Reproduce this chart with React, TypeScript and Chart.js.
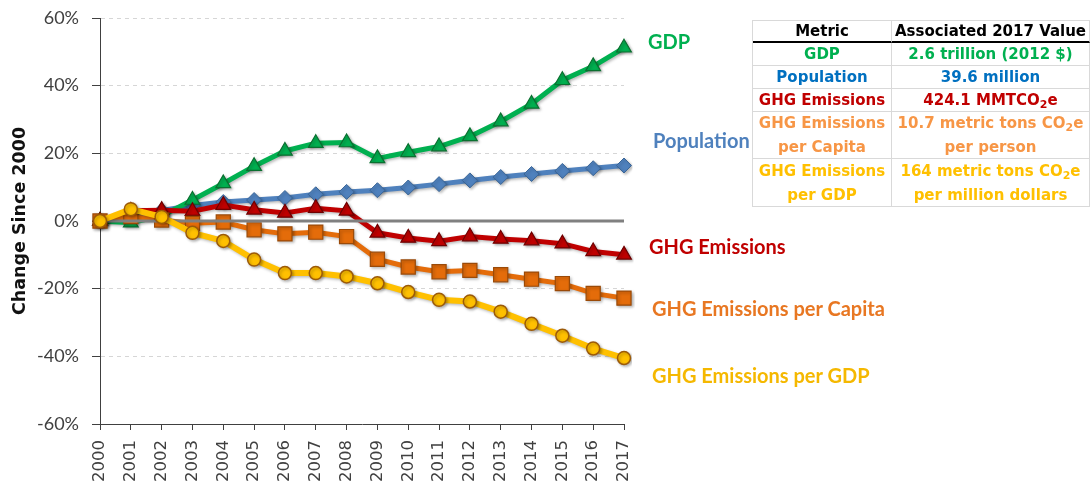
import React, { useEffect, useRef } from "react";
import { Chart, registerables } from "chart.js";

Chart.register(...registerables);

const years = ["2000","2001","2002","2003","2004","2005","2006","2007","2008","2009","2010","2011","2012","2013","2014","2015","2016","2017"];
const gdp = [0, -0.5, 1.5, 6.2, 11.1, 16.2, 20.7, 23.0, 23.2, 18.5, 20.3, 22.0, 25.0, 29.4, 34.6, 41.6, 45.7, 51.2];
const population = [0, 1.7, 3.1, 4.6, 5.6, 6.2, 6.8, 7.9, 8.6, 9.1, 9.9, 10.9, 12.0, 13.0, 13.9, 14.8, 15.6, 16.4];
const ghg = [0, 3.0, 3.2, 2.9, 4.7, 3.3, 2.4, 3.8, 3.0, -3.5, -5.0, -6.0, -4.6, -5.3, -5.8, -6.7, -9.0, -10.0];
const ghgPerCapita = [0, 1.3, 0.3, -0.7, -0.3, -2.6, -3.8, -3.3, -4.6, -11.3, -13.6, -15.0, -14.6, -15.9, -17.2, -18.5, -21.4, -22.8];
const ghgPerGdp = [0, 3.5, 1.2, -3.5, -5.9, -11.4, -15.4, -15.4, -16.4, -18.4, -21.0, -23.3, -23.8, -26.8, -30.4, -33.9, -37.7, -40.5];
const zeroLine = years.map(() => 0);
const yMin = -60;
const yMax = 60;
const yStep = 20;
const yTitle = "Change Since 2000";

const seriesLabels = ["GDP", "Population", "GHG Emissions", "GHG Emissions per Capita", "GHG Emissions per GDP"];

const shadowPlugin = {
  id: "shadowPlugin",
  beforeDatasetDraw(chart: any, args: any) {
    const ctx = chart.ctx;
    ctx.save();
    const ds = chart.data.datasets[args.index];
    if (ds && ds.label !== "zero") {
      ctx.shadowColor = "rgba(0,0,0,0.28)";
      ctx.shadowBlur = 3;
      ctx.shadowOffsetX = 1.5;
      ctx.shadowOffsetY = 1.5;
    }
  },
  afterDatasetDraw(chart: any) {
    chart.ctx.restore();
  },
};

function ChartCanvas() {
  const ref = useRef<HTMLCanvasElement | null>(null);
  useEffect(() => {
    if (!ref.current) return;
    const chart = new Chart(ref.current, {
      type: "line",
      data: {
        labels: years,
        datasets: [
          {
            label: seriesLabels[4],
            data: ghgPerGdp,
            borderColor: "#FFC000",
            borderWidth: 6,
            pointStyle: "circle",
            pointRadius: 6.5,
            pointBackgroundColor: "#FFC000",
            pointBorderColor: "#9C5A08",
            pointBorderWidth: 1.5,
            tension: 0,
          },
          {
            label: "zero",
            data: zeroLine,
            borderColor: "#808080",
            borderWidth: 3,
            pointRadius: 0,
            tension: 0,
          },
          {
            label: seriesLabels[3],
            data: ghgPerCapita,
            borderColor: "#E46C0A",
            borderWidth: 5,
            pointStyle: "rect",
            pointRadius: 10,
            pointBackgroundColor: "#E46C0A",
            pointBorderColor: "#9A4A08",
            pointBorderWidth: 1.2,
            tension: 0,
          },
          {
            label: seriesLabels[2],
            data: ghg,
            borderColor: "#C00000",
            borderWidth: 5,
            pointStyle: "triangle",
            pointRadius: 8.5,
            pointBackgroundColor: "#C00000",
            pointBorderColor: "#700000",
            pointBorderWidth: 1.2,
            tension: 0,
          },
          {
            label: seriesLabels[0],
            data: gdp,
            borderColor: "#00B050",
            borderWidth: 5,
            pointStyle: "triangle",
            pointRadius: 8.5,
            pointBackgroundColor: "#00B050",
            pointBorderColor: "#0A7030",
            pointBorderWidth: 1.2,
            tension: 0,
          },
          {
            label: seriesLabels[1],
            data: population,
            borderColor: "#4F81BD",
            borderWidth: 5,
            pointStyle: "rectRot",
            pointRadius: 7.5,
            pointBackgroundColor: "#4F81BD",
            pointBorderColor: "#3A6596",
            pointBorderWidth: 1,
            tension: 0,
          },
        ],
      },
      options: {
        responsive: false,
        animation: false,
        events: [],
        layout: { padding: { left: 0, top: 18, right: 467, bottom: 0 } },
        plugins: { legend: { display: false }, tooltip: { enabled: false } },
        scales: {
          x: {
            type: "category",
            offset: false,
            afterFit: (s: any) => { s.height = 59; },
            grid: { display: true, drawOnChartArea: false, drawTicks: true, tickLength: 6, tickColor: "#404040", tickWidth: 1 },
            border: { display: true, color: "#404040", width: 1 },
            ticks: {
              autoSkip: false,
              minRotation: 90,
              maxRotation: 90,
              padding: 10,
              color: "#404040",
              font: { family: "DejaVu Sans", size: 16.5 },
            },
          },
          y: {
            min: yMin,
            max: yMax,
            afterFit: (s: any) => { s.width = 100; s.paddingTop = 4; s.paddingBottom = 4; },
            grid: { color: "#D6D6D6", lineWidth: 1, drawTicks: true, tickLength: 8, tickColor: "#404040", tickWidth: 1 },
            border: { display: true, color: "#404040", width: 1, dash: [4, 4] },
            ticks: {
              stepSize: yStep,
              padding: 13,
              color: "#404040",
              font: { family: "Lato", size: 18 },
              callback: (v: any) => `${v}%`,
            },
            title: {
              display: true,
              text: yTitle,
              color: "#111111",
              font: { family: "DejaVu Sans", size: 17.5, weight: "bold" },
              padding: { top: 10, bottom: 0 },
            },
          },
        },
      },
      plugins: [shadowPlugin],
    } as any);
    return () => chart.destroy();
  }, []);
  return <canvas ref={ref} width={1091} height={483} style={{ width: 1091, height: 483, display: "block" }} />;
}

const labelFont = "Lato, sans-serif";
const tableFont = "'DejaVu Sans', sans-serif";
const grid = "#D9D9D9";

function SeriesLabel(props: { text: string; color: string; left: number; cy: number }) {
  return (
    <div
      style={{
        position: "absolute",
        left: props.left,
        top: props.cy - 12,
        height: 24,
        lineHeight: "24px",
        fontFamily: labelFont,
        fontWeight: 700,
        fontSize: 20,
        color: props.color,
        whiteSpace: "nowrap",
      }}
    >
      {props.text}
    </div>
  );
}

function Cell(props: { left: number; top: number; width: number; height: number; color: string; children: any; thick?: boolean }) {
  return (
    <div
      style={{
        position: "absolute",
        left: props.left,
        top: props.top,
        width: props.width,
        height: props.height,
        boxSizing: "border-box",
        borderRight: `1px solid ${grid}`,
        borderBottom: props.thick ? "2px solid #000" : `1px solid ${grid}`,
        display: "flex",
        alignItems: "center",
        justifyContent: "center",
        textAlign: "center",
        fontFamily: tableFont,
        fontWeight: 700,
        fontSize: 15,
        lineHeight: "24px",
        color: props.color,
        whiteSpace: "nowrap",
      }}
    >
      <div>{props.children}</div>
    </div>
  );
}

const CO2 = () => (
  <span>
    CO<sub style={{ fontSize: 11, verticalAlign: "-3px", lineHeight: 0 }}>2</sub>e
  </span>
);

export default function App() {
  const tx = 753;
  const c1 = 139;
  const c2 = 1090 - 892;
  const rows = [
    { top: 20, h: 23 },
    { top: 43, h: 23 },
    { top: 66, h: 23 },
    { top: 89, h: 23 },
    { top: 112, h: 47 },
    { top: 159, h: 48 },
  ];
  const colors = ["#000000", "#00B050", "#0070C0", "#C00000", "#F79646", "#FFC000"];
  const left: any[] = [
    "Metric",
    "GDP",
    "Population",
    "GHG Emissions",
    <span>GHG Emissions<br />per Capita</span>,
    <span>GHG Emissions<br />per GDP</span>,
  ];
  const right: any[] = [
    "Associated 2017 Value",
    "2.6 trillion (2012 $)",
    "39.6 million",
    <span>424.1 MMT<CO2 /></span>,
    <span>10.7 metric tons <CO2 /><br />per person</span>,
    <span>164 metric tons <CO2 /><br />per million dollars</span>,
  ];
  return (
    <div style={{ position: "absolute", left: 0, top: 0, width: 1091, height: 483, background: "#fff", overflow: "hidden" }}>
      <ChartCanvas />
      <SeriesLabel text={seriesLabels[0]} color="#00B050" left={648} cy={41} />
      <SeriesLabel text={seriesLabels[1]} color="#4F81BD" left={653} cy={140} />
      <SeriesLabel text={seriesLabels[2]} color="#C00000" left={649} cy={246} />
      <SeriesLabel text={seriesLabels[3]} color="#E87722" left={652} cy={308} />
      <SeriesLabel text={seriesLabels[4]} color="#F5B800" left={652} cy={375} />
      <div style={{ position: "absolute", left: tx, top: 20, width: 1090 - tx, height: 1, background: grid }} />
      <div style={{ position: "absolute", left: tx - 1, top: 20, width: 1, height: 187, background: grid }} />
      {rows.map((r, i) => (
        <React.Fragment key={i}>
          <Cell left={tx} top={r.top} width={c1} height={r.h} color={colors[i]} thick={i === 0}>{left[i]}</Cell>
          <Cell left={tx + c1} top={r.top} width={c2} height={r.h} color={colors[i]} thick={i === 0}>{right[i]}</Cell>
        </React.Fragment>
      ))}
    </div>
  );
}
